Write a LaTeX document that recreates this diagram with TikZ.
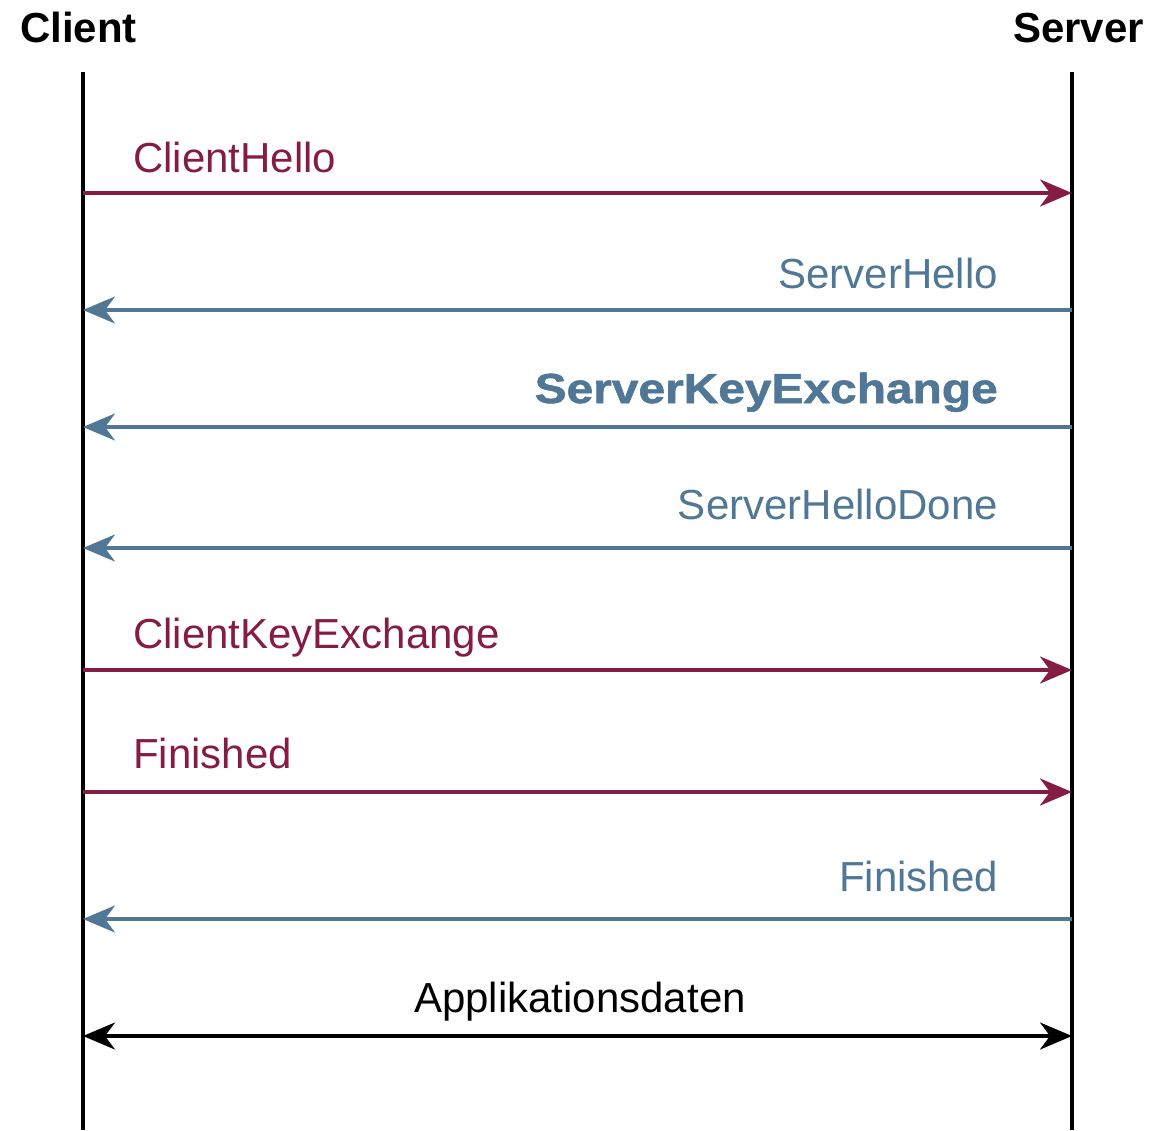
\documentclass[tikz,border=0pt]{standalone}
\usepackage{fontspec}
\setmainfont{Liberation Sans}
\newfontfamily\heavyfont[FakeBold=1.2]{Liberation Sans Bold}
\usetikzlibrary{arrows.meta}
\definecolor{clientcol}{RGB}{133,28,68}
\definecolor{servercol}{RGB}{80,120,150}
\tikzset{
  tip/.style={Stealth[length=32pt,width=27pt,inset=10pt]},
  lifeline/.style={line width=4pt, black},
  msg/.style={line width=3.5pt, -{Stealth[length=32pt,width=27pt,inset=10pt]}},
  both/.style={line width=3.5pt, {Stealth[length=32pt,width=27pt,inset=10pt]}-{Stealth[length=32pt,width=27pt,inset=10pt]}},
  lbl/.style={inner sep=0pt, font=\fontsize{42}{50}\selectfont},
  head/.style={inner sep=0pt, font=\fontsize{42}{50}\selectfont\bfseries},
}
\begin{document}
\begin{tikzpicture}[x=1pt,y=-1pt]
\useasboundingbox (0,0) rectangle (1166,1130);

% participants
\node[head, anchor=base west] (client) at (20,42) {Client};
\node[head, anchor=base east] (server) at (1144,42) {Server};

\coordinate (ctop) at (83,72);
\coordinate (cbot) at (83,1130);
\coordinate (stop) at (1072,72);
\coordinate (sbot) at (1072,1130);
\draw[lifeline] (ctop) -- (cbot);
\draw[lifeline] (stop) -- (sbot);

% message end points on both lifelines
\foreach \i/\y in {1/193,2/310,3/427,4/548,5/670,6/792,7/919,8/1036}{
  \coordinate (c\i) at (83,\y);
  \coordinate (s\i) at (1072,\y);
}

% client -> server
\draw[msg, clientcol] (c1) -- (s1);
\node[lbl, clientcol, anchor=base west] (m1) at (133,172) {ClientHello};

% server -> client
\draw[msg, servercol] (s2) -- (c2);
\node[lbl, servercol, anchor=base east] (m2) at (998,288) {ServerHello};

\draw[msg, servercol] (s3) -- (c3);
\node[lbl, servercol, anchor=base east, font=\fontsize{42}{50}\selectfont\heavyfont] (m3) at (998,403) {\scalebox{1.14}[1]{ServerKeyExchange}};

\draw[msg, servercol] (s4) -- (c4);
\node[lbl, servercol, anchor=base east] (m4) at (998,519) {ServerHelloDone};

\draw[msg, clientcol] (c5) -- (s5);
\node[lbl, clientcol, anchor=base west] (m5) at (133,648) {ClientKeyExchange};

\draw[msg, clientcol] (c6) -- (s6);
\node[lbl, clientcol, anchor=base west] (m6) at (133,768) {Finished};

\draw[msg, servercol] (s7) -- (c7);
\node[lbl, servercol, anchor=base east] (m7) at (998,891) {Finished};

% application data in both directions
\draw[both, black] (c8) -- (s8);
\node[lbl, black, anchor=base] (m8) at (580,1012) {Applikationsdaten};
\end{tikzpicture}
\end{document}
